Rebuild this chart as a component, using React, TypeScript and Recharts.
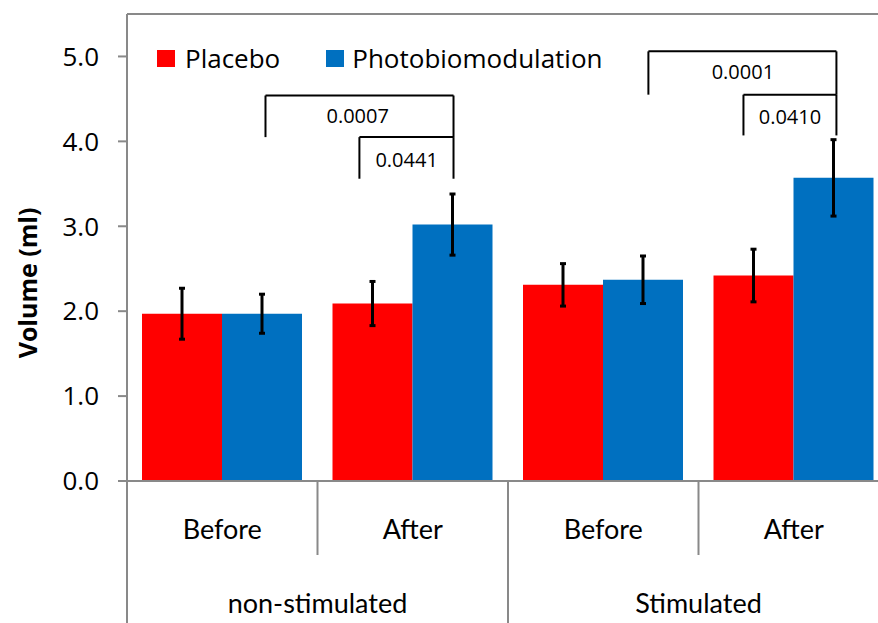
import {
  Bar,
  BarChart,
  ErrorBar,
  Legend,
  ReferenceDot,
  ReferenceLine,
  XAxis,
  YAxis,
} from "recharts";

const categories = ["Before", "After", "Before", "After"];
const groups = ["non-stimulated", "Stimulated"];
const placebo = [1.97, 2.09, 2.31, 2.42];
const placeboErr = [0.3, 0.26, 0.25, 0.31];
const photobiomodulation = [1.97, 3.02, 2.37, 3.57];
const photobiomodulationErr = [0.23, 0.36, 0.28, 0.45];
const yTicks = [0, 1, 2, 3, 4, 5];

// p-value brackets: x in category units (0..4), y in ml
const bracketLabels = ["0.0007", "0.0441", "0.0001", "0.0410"];
const bracketLeft = [0.727, 1.22, 2.737, 3.236];
const bracketRight = [1.714, 1.714, 3.724, 3.724];
const bracketTop = [4.54, 4.05, 5.06, 4.55];
const bracketBottom = [4.05, 3.56, 4.55, 4.07];
const bracketLabelX = [1.211, 1.468, 3.233, 3.48];
const bracketLabelY = [4.31, 3.79, 4.82, 4.29];

const RED = "#ff0000";
const BLUE = "#0070c0";
const AXIS = "#898989";

const data = categories.map((name, i) => ({
  name,
  pos: i + 0.5,
  placebo: placebo[i],
  placeboErr: placeboErr[i],
  pbm: photobiomodulation[i],
  pbmErr: photobiomodulationErr[i],
}));

const CategoryTick = (props: any) => {
  const { x, y, payload, index } = props;
  const half = payload?.offset ?? 95.2;
  const left = x - half;
  const groupStart = index % 2 === 0;
  return (
    <g>
      <line x1={left} y1={y} x2={left} y2={groupStart ? 623 : 555} stroke={AXIS} strokeWidth={2} />
      {index === categories.length - 1 && (
        <line x1={x + half} y1={y} x2={x + half} y2={623} stroke={AXIS} strokeWidth={2} />
      )}
      <text x={x} y={y + 58} textAnchor="middle" fontFamily="Lato" fontSize={27} fill="#000">
        {payload.value}
      </text>
      {groupStart && (
        <text x={x + half} y={y + 132} textAnchor="middle" fontFamily="Lato" fontSize={27} fill="#000">
          {groups[index / 2]}
        </text>
      )}
    </g>
  );
};

const YTitle = () => (
  <text
    transform="translate(27,283) rotate(-90)"
    textAnchor="middle"
    dominantBaseline="central"
    fontFamily="Open Sans"
    fontWeight="bold"
    fontSize={25}
    fill="#000"
  >
    Volume (ml)
  </text>
);

const LegendBox = () => (
  <div
    style={{
      display: "flex",
      alignItems: "center",
      fontFamily: "Open Sans",
      fontSize: 26,
      lineHeight: "30px",
      color: "#000",
    }}
  >
    <span style={{ width: 18, height: 17, background: RED, marginRight: 10 }} />
    <span style={{ marginRight: 46 }}>Placebo</span>
    <span style={{ width: 18, height: 17, background: BLUE, marginRight: 8 }} />
    <span>Photobiomodulation</span>
  </div>
);

const App = () => {
  return (
    <div
      style={{
        position: "fixed",
        left: 0,
        top: 0,
        width: 878,
        height: 623,
        overflow: "hidden",
        background: "#fff",
      }}
    >
      <BarChart
        width={900}
        height={623}
        data={data}
        margin={{ top: 14, right: 11, bottom: 0, left: 0 }}
        barCategoryGap={15}
        barGap={0}
      >
        <XAxis
          dataKey="name"
          height={142}
          interval={0}
          tickSize={0}
          tickMargin={0}
          tickLine={false}
          axisLine={{ stroke: AXIS, strokeWidth: 2 }}
          tick={<CategoryTick />}
        />
        <XAxis xAxisId="num" dataKey="pos" type="number" domain={[0, 4]} allowDataOverflow hide />
        <YAxis
          width={127}
          domain={[0, 5.5]}
          ticks={yTicks}
          tickFormatter={(v: number) => v.toFixed(1)}
          tickSize={9}
          tickMargin={19}
          axisLine={{ stroke: AXIS, strokeWidth: 2 }}
          tickLine={{ stroke: AXIS, strokeWidth: 2 }}
          tick={{ fontFamily: "Open Sans", fontSize: 26, fill: "#000" }}
          label={<YTitle />}
        />
        <ReferenceLine y={5.5} stroke={AXIS} strokeWidth={2} />
        <Legend
          layout="horizontal"
          verticalAlign="middle"
          align="center"
          wrapperStyle={{ top: 43, left: 157, width: "auto" }}
          content={<LegendBox />}
        />
        <Bar dataKey="placebo" name="Placebo" fill={RED} isAnimationActive={false}>
          <ErrorBar dataKey="placeboErr" width={3} strokeWidth={3} stroke="#000" isAnimationActive={false} />
        </Bar>
        <Bar dataKey="pbm" name="Photobiomodulation" fill={BLUE} isAnimationActive={false}>
          <ErrorBar dataKey="pbmErr" width={3} strokeWidth={3} stroke="#000" isAnimationActive={false} />
        </Bar>
        {bracketLabels.map((label, i) => (
          <ReferenceLine
            key={`l-${label}`}
            xAxisId="num"
            segment={[
              { x: bracketLeft[i], y: bracketBottom[i] },
              { x: bracketLeft[i], y: bracketTop[i] },
            ]}
            stroke="#000"
            strokeWidth={2}
          />
        ))}
        {bracketLabels.map((label, i) => (
          <ReferenceLine
            key={`t-${label}`}
            xAxisId="num"
            segment={[
              { x: bracketLeft[i], y: bracketTop[i] },
              { x: bracketRight[i], y: bracketTop[i] },
            ]}
            stroke="#000"
            strokeWidth={2}
          />
        ))}
        {bracketLabels.map((label, i) => (
          <ReferenceLine
            key={`r-${label}`}
            xAxisId="num"
            segment={[
              { x: bracketRight[i], y: bracketTop[i] },
              { x: bracketRight[i], y: bracketBottom[i] },
            ]}
            stroke="#000"
            strokeWidth={2}
          />
        ))}
        {bracketLabels.map((label, i) => (
          <ReferenceDot
            key={`p-${label}`}
            xAxisId="num"
            x={bracketLabelX[i]}
            y={bracketLabelY[i]}
            r={0}
            shape={(p: any) => (
              <text
                x={p.cx}
                y={p.cy}
                textAnchor="middle"
                dominantBaseline="central"
                fontFamily="Open Sans"
                fontSize={20}
                fill="#000"
              >
                {label}
              </text>
            )}
          />
        ))}
      </BarChart>
    </div>
  );
};

export default App;
